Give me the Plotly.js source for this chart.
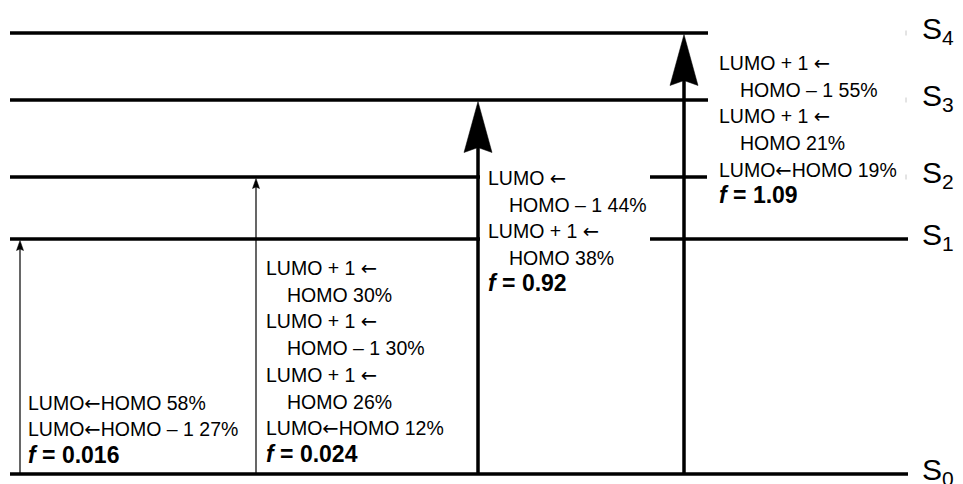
<!DOCTYPE html>
<html>
<head>
<meta charset="utf-8">
<script src="https://cdn.plot.ly/plotly-3.0.1.min.js"></script>
<style>
  html, body { margin: 0; padding: 0; background: #fff; }
  #chart { width: 963px; height: 484px; }
</style>
</head>
<body>
<div id="chart"></div>
<script>
// Singlet state energy levels (diagram units, S0 = 0)
const stateNames = ['S<sub>0</sub>', 'S<sub>1</sub>', 'S<sub>2</sub>', 'S<sub>3</sub>', 'S<sub>4</sub>'];
const stateEnergy = [0, 235, 297, 374, 441];

// Excitations S0 -> Sn
const excitedTarget = [1, 2, 3, 4];
const oscStrength = [0.016, 0.024, 0.92, 1.09];

// Orbital contributions for each excitation
const contribAcceptor = [
  ['LUMO', 'LUMO'],
  ['LUMO + 1', 'LUMO + 1', 'LUMO + 1', 'LUMO'],
  ['LUMO', 'LUMO + 1'],
  ['LUMO + 1', 'LUMO + 1', 'LUMO']
];
const contribDonor = [
  ['HOMO', 'HOMO \u2013 1'],
  ['HOMO', 'HOMO \u2013 1', 'HOMO', 'HOMO'],
  ['HOMO \u2013 1', 'HOMO'],
  ['HOMO \u2013 1', 'HOMO', 'HOMO']
];
const contribPercent = [
  [58, 27],
  [30, 30, 26, 12],
  [44, 38],
  [55, 21, 19]
];

// ---- drawing layout ----
const W = 963, H = 484;
const yBase = 474;                       // pixel row of S0
const toY = py => yBase - py;            // pixel row -> axis units
const FONT = 'Liberation Sans, Arial, Helvetica, sans-serif';
const ARROW = '<span style="font-family:DejaVu Sans">\u2190</span>';

const levelSegments = [
  [[10, 908]],
  [[10, 480], [650, 908]],
  [[10, 480], [650, 707]],
  [[10, 708]],
  [[10, 708]]
];
const arrowX = [20, 256, 478, 684];
const textX = [26, 264, 486, 717];
const textTopPx = [403, 268, 178, 63];
const wrapAll = [false, false, true, false];
const indent = 21;
const lineStep = 26.8;
const fStep = 25;
const textSize = 19.5;
const fSize = 23;

const traces = [];
const annotations = [];

// energy level lines
levelSegments.forEach((segs, i) => {
  const xs = [], ys = [];
  segs.forEach(s => { xs.push(s[0], s[1], null); ys.push(stateEnergy[i], stateEnergy[i], null); });
  traces.push({
    x: xs, y: ys, mode: 'lines', hoverinfo: 'skip', showlegend: false,
    line: { color: '#000', width: 3.5 }
  });
});

// faint end marks next to the state labels
[2, 3, 4].forEach(i => {
  traces.push({
    x: [906, 906], y: [stateEnergy[i] - 2.5, stateEnergy[i] + 2.5],
    mode: 'lines', hoverinfo: 'skip', showlegend: false,
    line: { color: '#c8c8c8', width: 1 }
  });
});

// excitation arrows
excitedTarget.forEach((t, k) => {
  const strong = oscStrength[k] > 0.1;
  const x = arrowX[k];
  const tip = stateEnergy[t] - 1.5;
  const headLen = strong ? 51 : 10;
  const headW = strong ? 28 : 7;
  const notch = strong ? 5 : 1.5;
  traces.push({
    x: [x, x], y: [stateEnergy[0], tip - headLen + notch + 1],
    mode: 'lines', hoverinfo: 'skip', showlegend: false,
    line: { color: '#000', width: strong ? 3.5 : 1.2 }
  });
  traces.push({
    x: [x, x + headW / 2, x, x - headW / 2, x],
    y: [tip, tip - headLen, tip - headLen + notch, tip - headLen, tip],
    mode: 'lines', fill: 'toself', fillcolor: '#000',
    hoverinfo: 'skip', showlegend: false,
    line: { color: '#000', width: 0.5 }
  });
});

// contribution text blocks
function addText(x, py, text, size) {
  annotations.push({
    x: x, y: toY(py), xref: 'x', yref: 'y',
    xanchor: 'left', yanchor: 'middle', showarrow: false,
    text: text, align: 'left',
    font: { family: FONT, size: size, color: '#000' }
  });
}

excitedTarget.forEach((t, k) => {
  let py = textTopPx[k];
  contribAcceptor[k].forEach((acc, j) => {
    const don = contribDonor[k][j];
    const pct = contribPercent[k][j] + '%';
    const wrap = wrapAll[k] || acc !== 'LUMO';
    if (wrap) {
      addText(textX[k], py, acc + ' ' + ARROW, textSize);
      py += lineStep;
      addText(textX[k] + indent, py, don + ' ' + pct, textSize);
    } else {
      addText(textX[k], py, acc + ARROW + don + ' ' + pct, textSize);
    }
    py += lineStep;
  });
  py += fStep - lineStep;
  addText(textX[k], py, '<b><i>f</i> = ' + oscStrength[k] + '</b>', fSize);
});

// state labels
stateNames.forEach((name, i) => {
  annotations.push({
    x: 920, y: stateEnergy[i] + 3, xref: 'x', yref: 'y',
    xanchor: 'left', yanchor: 'middle', showarrow: false,
    text: name,
    font: { family: FONT, size: 30, color: '#000' }
  });
});

const layout = {
  width: W, height: H,
  margin: { l: 0, r: 0, t: 0, b: 0, pad: 0 },
  paper_bgcolor: '#fff', plot_bgcolor: '#fff',
  xaxis: { range: [0, W], visible: false, fixedrange: true },
  yaxis: { range: [toY(H), toY(0)], visible: false, fixedrange: true },
  annotations: annotations,
  showlegend: false
};

Plotly.newPlot('chart', traces, layout, { staticPlot: true, displayModeBar: false });
</script>
</body>
</html>
